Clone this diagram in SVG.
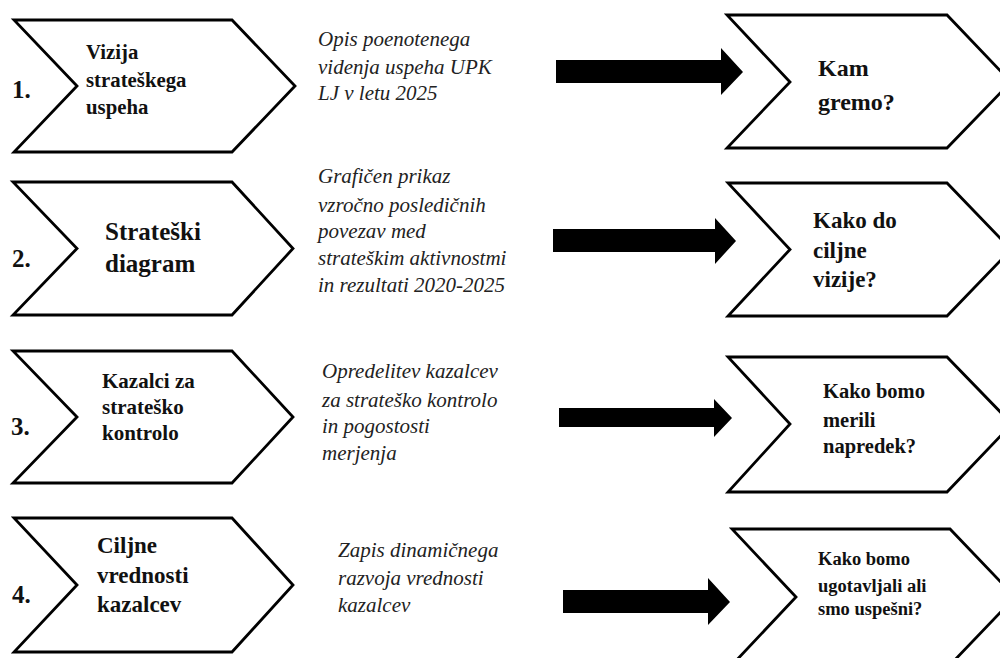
<svg xmlns="http://www.w3.org/2000/svg" width="1000" height="658" viewBox="0 0 1000 658">
<style>
.chev{fill:#fff;stroke:#000;stroke-width:2.8;stroke-linejoin:miter}
.b{font-family:"Liberation Serif","Times New Roman",serif;font-weight:bold;fill:#111}
.num{font-size:25px}
.d{font-family:"Liberation Serif","Times New Roman",serif;font-style:italic;font-size:21px;fill:#222}
.arr{fill:#000}
</style>
<rect width="1000" height="658" fill="#fff"/>
<g id="step1">
<polygon class="chev" points="14,20 232,20 295,86 232,152 14,152 77,86"/>
<text class="b num" x="12" y="98">1.</text>
<text class="b" font-size="20.8"><tspan x="86" y="59">Vizija</tspan><tspan x="86" y="87">strateškega</tspan><tspan x="86" y="114">uspeha</tspan></text>
</g>
<g id="step2">
<polygon class="chev" points="13,182 232,182 293,248.5 232,315 13,315 77,248.5"/>
<text class="b num" x="12" y="267">2.</text>
<text class="b" font-size="25"><tspan x="105" y="240">Strateški</tspan><tspan x="105" y="272">diagram</tspan></text>
</g>
<g id="step3">
<polygon class="chev" points="13,351 232,351 293,417 232,483 13,483 77,417"/>
<text class="b num" x="11" y="435">3.</text>
<text class="b" font-size="21"><tspan x="102" y="388">Kazalci za</tspan><tspan x="102" y="414">strateško</tspan><tspan x="102" y="440">kontrolo</tspan></text>
</g>
<g id="step4">
<polygon class="chev" points="14,518 232,518 293,585 232,652 14,652 77,585"/>
<text class="b num" x="12" y="603">4.</text>
<text class="b" font-size="23"><tspan x="97" y="553">Ciljne</tspan><tspan x="97" y="583">vrednosti</tspan><tspan x="97" y="612">kazalcev</tspan></text>
</g>
<g id="desc1">
<text class="d"><tspan x="318" y="46">Opis poenotenega</tspan><tspan x="318" y="74">videnja uspeha UPK</tspan><tspan x="318" y="100">LJ v letu 2025</tspan></text>
</g>
<g id="desc2">
<text class="d"><tspan x="318" y="183">Grafičen prikaz</tspan><tspan x="318" y="212">vzročno posledičnih</tspan><tspan x="318" y="238">povezav med</tspan><tspan x="318" y="265">strateškim aktivnostmi</tspan><tspan x="318" y="292">in rezultati 2020-2025</tspan></text>
</g>
<g id="desc3">
<text class="d"><tspan x="322" y="378">Opredelitev kazalcev</tspan><tspan x="322" y="407">za strateško kontrolo</tspan><tspan x="322" y="433">in pogostosti</tspan><tspan x="322" y="460">merjenja</tspan></text>
</g>
<g id="desc4">
<text class="d"><tspan x="338" y="557">Zapis dinamičnega</tspan><tspan x="338" y="585">razvoja vrednosti</tspan><tspan x="338" y="612">kazalcev</tspan></text>
</g>
<g id="q1">
<polygon class="chev" points="727,15 947,15 1011,82 947,148 727,148 790,82"/>
<text class="b" font-size="24"><tspan x="818" y="76">Kam</tspan><tspan x="818" y="110">gremo?</tspan></text>
</g>
<g id="q2">
<polygon class="chev" points="728,183 947,183 1011,249.5 947,316 728,316 790,249.5"/>
<text class="b" font-size="23"><tspan x="813" y="228">Kako do</tspan><tspan x="813" y="258">ciljne</tspan><tspan x="813" y="287">vizije?</tspan></text>
</g>
<g id="q3">
<polygon class="chev" points="728,357 947,357 1012,424 947,492 728,492 790,424"/>
<text class="b" font-size="20.5"><tspan x="823" y="398">Kako bomo</tspan><tspan x="823" y="427">merili</tspan><tspan x="823" y="453">napredek?</tspan></text>
</g>
<g id="q4">
<polygon class="chev" points="732,529 950,529 1015,597 950,665 732,665 796,597"/>
<text class="b" font-size="18.5"><tspan x="818" y="565">Kako bomo</tspan><tspan x="818" y="592">ugotavljali ali</tspan><tspan x="818" y="615">smo uspešni?</tspan></text>
</g>
<g id="connectors">
<polygon class="arr" points="556,60 721,60 721,48 743,72 721,95 721,83 556,83"/>
<polygon class="arr" points="553,229 715,229 715,218 736,241 715,264 715,252 553,252"/>
<polygon class="arr" points="559,408 714,408 714,399 732,418 714,437 714,427 559,427"/>
<polygon class="arr" points="563,590 708,590 708,578 730,602 708,625 708,613 563,613"/>
</g>
</svg>
